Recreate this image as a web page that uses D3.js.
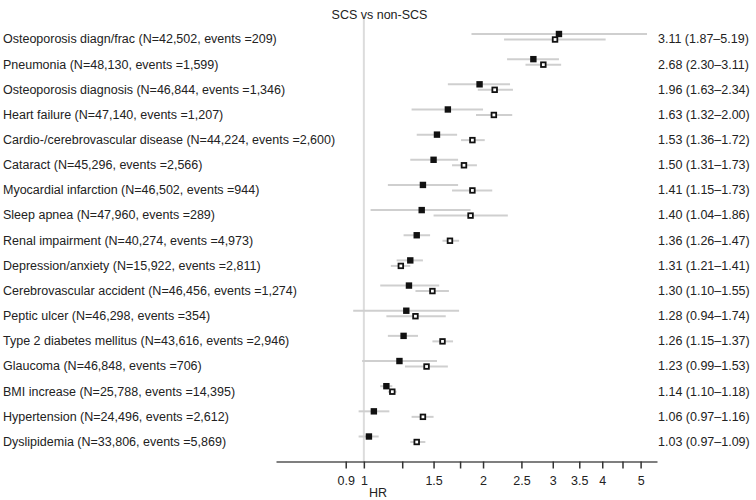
<!DOCTYPE html>
<html>
<head>
<meta charset="utf-8">
<script src="https://cdn.jsdelivr.net/npm/d3@7"></script>
<style>
  html, body { margin: 0; padding: 0; background: #fff; }
  svg { display: block; font-family: "Liberation Sans", Arial, sans-serif; }
</style>
</head>
<body>
<svg id="chart" width="756" height="500"></svg>
<script>
const title = "SCS vs non-SCS";
const categories = [
  "Osteoporosis diagn/frac (N=42,502, events =209)",
  "Pneumonia (N=48,130, events =1,599)",
  "Osteoporosis diagnosis (N=46,844, events =1,346)",
  "Heart failure (N=47,140, events =1,207)",
  "Cardio-/cerebrovascular disease (N=44,224, events =2,600)",
  "Cataract (N=45,296, events =2,566)",
  "Myocardial infarction (N=46,502, events =944)",
  "Sleep apnea (N=47,960, events =289)",
  "Renal impairment (N=40,274, events =4,973)",
  "Depression/anxiety (N=15,922, events =2,811)",
  "Cerebrovascular accident (N=46,456, events =1,274)",
  "Peptic ulcer (N=46,298, events =354)",
  "Type 2 diabetes mellitus (N=43,616, events =2,946)",
  "Glaucoma (N=46,848, events =706)",
  "BMI increase (N=25,788, events =14,395)",
  "Hypertension (N=24,496, events =2,612)",
  "Dyslipidemia (N=33,806, events =5,869)"
];
// Primary estimate (filled squares)
const hr   = [3.11, 2.68, 1.96, 1.63, 1.53, 1.50, 1.41, 1.40, 1.36, 1.31, 1.30, 1.28, 1.26, 1.23, 1.14, 1.06, 1.03];
const hrLo = [1.87, 2.30, 1.63, 1.32, 1.36, 1.31, 1.15, 1.04, 1.26, 1.21, 1.10, 0.94, 1.15, 0.99, 1.10, 0.97, 0.97];
const hrHi = [5.19, 3.11, 2.34, 2.00, 1.72, 1.73, 1.73, 1.86, 1.47, 1.41, 1.55, 1.74, 1.37, 1.53, 1.18, 1.16, 1.09];
// Secondary estimate (open squares)
const hr2   = [3.04, 2.84, 2.14, 2.13, 1.88, 1.79, 1.88, 1.86, 1.65, 1.24, 1.49, 1.35, 1.58, 1.44, 1.18, 1.41, 1.36];
const hr2Lo = [2.26, 2.56, 1.94, 1.92, 1.76, 1.67, 1.67, 1.50, 1.58, 1.17, 1.35, 1.14, 1.49, 1.27, 1.15, 1.32, 1.31];
const hr2Hi = [4.08, 3.15, 2.38, 2.37, 2.02, 1.93, 2.11, 2.31, 1.74, 1.31, 1.64, 1.61, 1.68, 1.63, 1.21, 1.50, 1.43];
const tickValues = [0.9, 1, 1.25, 1.5, 1.75, 2, 2.5, 3, 3.5, 4, 4.5, 5];
const tickLabels = ["0.9", "1", "", "1.5", "", "2", "2.5", "3", "3.5", "4", "", "5"];
const axisLabel = "HR";

const svg = d3.select("#chart");
const fmt = d3.format(".2f");

const x = d3.scaleLog().domain([0.6, 5.5]).range([276, 657]);
const y = d3.scalePoint().domain(d3.range(categories.length)).range([39, 441.5]);
const axisY = 461.5;

// title
svg.append("text")
  .attr("x", 379.5).attr("y", 19)
  .attr("text-anchor", "middle")
  .attr("font-size", 12.5).attr("fill", "#222")
  .text(title);

// reference line at HR = 1
svg.append("line")
  .attr("x1", x(1)).attr("x2", x(1))
  .attr("y1", 19).attr("y2", axisY)
  .attr("stroke", "#dcdcdc").attr("stroke-width", 2);

// category labels
svg.append("g").selectAll("text").data(categories).join("text")
  .attr("x", 3).attr("y", (d, i) => y(i))
  .attr("dy", "0.35em")
  .attr("font-size", 12.5).attr("fill", "#222")
  .text(d => d);

// value labels
svg.append("g").selectAll("text").data(hr).join("text")
  .attr("x", 658).attr("y", (d, i) => y(i))
  .attr("dy", "0.35em")
  .attr("font-size", 12.5).attr("fill", "#222")
  .text((d, i) => `${fmt(d)} (${fmt(hrLo[i])}\u2013${fmt(hrHi[i])})`);

const offF = -5, offO = 0.5;

// CI lines
const gci = svg.append("g").attr("stroke", "#cfcfcf").attr("stroke-width", 2);
gci.selectAll("line.a").data(hr).join("line").attr("class", "a")
  .attr("x1", (d, i) => x(hrLo[i])).attr("x2", (d, i) => x(hrHi[i]))
  .attr("y1", (d, i) => y(i) + offF).attr("y2", (d, i) => y(i) + offF);
gci.selectAll("line.b").data(hr2).join("line").attr("class", "b")
  .attr("x1", (d, i) => x(hr2Lo[i])).attr("x2", (d, i) => x(hr2Hi[i]))
  .attr("y1", (d, i) => y(i) + offO).attr("y2", (d, i) => y(i) + offO);

// open squares
svg.append("g").selectAll("rect").data(hr2).join("rect")
  .attr("x", d => x(d) - 2.3).attr("y", (d, i) => y(i) + offO - 2.3)
  .attr("width", 4.6).attr("height", 4.6)
  .attr("fill", "#fff").attr("stroke", "#111").attr("stroke-width", 1.8);

// filled squares
svg.append("g").selectAll("rect").data(hr).join("rect")
  .attr("x", d => x(d) - 3.2).attr("y", (d, i) => y(i) + offF - 3.2)
  .attr("width", 6.4).attr("height", 6.4)
  .attr("fill", "#111");

// axis
const axis = d3.axisBottom(x)
  .tickValues(tickValues)
  .tickFormat((d, i) => tickLabels[i])
  .tickSize(7).tickSizeOuter(0);
const gax = svg.append("g").attr("transform", `translate(0,${axisY})`).call(axis);
gax.select(".domain").attr("stroke", "#555").attr("stroke-width", 1.5);
gax.selectAll(".tick line").attr("stroke", "#333").attr("stroke-width", 1.5);
gax.selectAll(".tick text")
  .attr("font-family", "Liberation Sans, Arial, sans-serif")
  .attr("font-size", 12.5).attr("fill", "#222").attr("y", 15);

svg.append("text")
  .attr("x", 378).attr("y", 497)
  .attr("text-anchor", "middle")
  .attr("font-size", 12.5).attr("fill", "#222")
  .text(axisLabel);
</script>
</body>
</html>
